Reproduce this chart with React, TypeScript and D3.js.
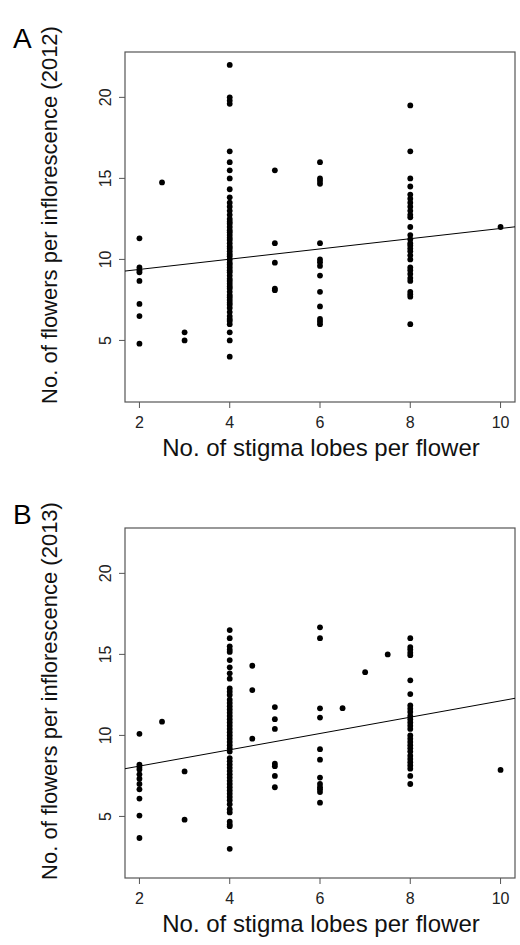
import React from 'react';
import * as d3 from 'd3';

// stigma lobe classes shown on the x axis
const lobes2012 = [2, 2.5, 3, 4, 5, 6, 8, 10];
const lobes2013 = [2, 2.5, 3, 4, 4.5, 5, 6, 6.5, 7, 7.5, 8, 10];

// flowers per inflorescence, one list per lobe class (2012)
const flowers2012 = [
  [11.3, 9.5, 9.33, 9.2, 8.67, 7.25, 6.5, 4.8],
  [14.75],
  [5.5, 5.0],
  [22, 20, 19.8, 19.6, 16.67, 16, 15.5, 15, 14.33, 13.83, 13.5, 13.25, 13, 12.75, 12.5,
    12.33, 12.2, 12, 11.8, 11.67, 11.5, 11.33, 11.2, 11, 10.8, 10.67, 10.5, 10.33, 10.2,
    10, 9.8, 9.67, 9.5, 9.33, 9.2, 9, 8.8, 8.67, 8.5, 8.33, 8.2, 8, 7.8, 7.67, 7.5, 7.33,
    7.2, 7, 6.75, 6.5, 6.33, 6.2, 6, 5.5, 5, 4],
  [15.5, 11, 9.8, 8.2, 8.1],
  [16, 15, 14.85, 14.67, 11, 10, 9.83, 9.6, 9, 8, 7.1, 6.33, 6.17, 6],
  [19.5, 16.67, 15, 14.5, 14, 13.75, 13.5, 13.25, 13, 12.75, 12.6, 12, 11.5, 11.25, 11,
    10.86, 10.67, 10.5, 10.25, 10, 9.5, 9.33, 9.1, 8.85, 8.67, 8, 7.85, 7.7, 6],
  [12],
];

// flowers per inflorescence, one list per lobe class (2013)
const flowers2013 = [
  [10.1, 8.2, 8.05, 7.9, 7.6, 7.33, 7.0, 6.67, 6.1, 5.05, 3.67],
  [10.85],
  [7.78, 4.8],
  [16.5, 16, 15.5, 15.3, 15.15, 14.65, 14.2, 13.83, 13.5, 12.9, 12.7, 12.5, 12.2, 12,
    11.8, 11.6, 11.4, 11.2, 11, 10.8, 10.6, 10.4, 10.2, 10, 9.8, 9.6, 9.4, 9.2, 9, 8.6,
    8.4, 8.2, 8, 7.8, 7.6, 7.4, 7.2, 7, 6.8, 6.6, 6.4, 6.2, 6, 5.75, 5.45, 5.25, 4.67,
    4.5, 4.4, 3],
  [14.3, 12.8, 9.8],
  [11.75, 11, 10.4, 8.25, 8.1, 7.5, 6.8],
  [16.67, 16, 11.67, 11.1, 9.15, 8.5, 7.4, 7, 6.8, 6.67, 6.5, 5.85],
  [11.68],
  [13.9],
  [15],
  [16, 15.45, 15.3, 15.1, 14.95, 13.4, 12.55, 11.85, 11.65, 11.45, 11.2, 11, 10.8, 10.6,
    10.4, 10, 9.8, 9.6, 9.4, 9.2, 9, 8.75, 8.55, 8.35, 8.15, 7.95, 7.5, 7],
  [7.87],
];

// fitted lines (intercept, slope)
const fit2012 = [8.75, 0.316];
const fit2013 = [7.1, 0.503];

const xTicks = [2, 4, 6, 8, 10];
const yTicks = [5, 10, 15, 20];

const FONT = '"Liberation Sans", Arial, Helvetica, sans-serif';
const LEFT = 125;
const RIGHT = 515;
const PLOT_H = 350;

type PanelProps = {
  top: number;
  letter: string;
  yLabel: string;
  lobes: number[];
  flowers: number[][];
  fit: number[];
};

const Panel = ({ top, letter, yLabel, lobes, flowers, fit }: PanelProps) => {
  const bottom = top + PLOT_H;
  const x = d3.scaleLinear().domain([1.68, 10.32]).range([LEFT, RIGHT]);
  const y = d3.scaleLinear().domain([1.2, 22.8]).range([bottom, top]);

  const points = lobes.flatMap((lx, i) => flowers[i].map(v => [lx, v]));
  const [a, b] = fit;
  const line = d3.line<number>().x(d => x(d)).y(d => y(a + b * d));

  return (
    <g>
      <text x={13} y={top - 4} fontSize={28} fontFamily={FONT}>{letter}</text>

      <rect x={LEFT} y={top} width={RIGHT - LEFT} height={PLOT_H}
        fill="none" stroke="#555" strokeWidth={1.2} />

      {points.map(([px, py], i) => (
        <circle key={i} cx={x(px)} cy={y(py)} r={2.9} fill="#000" />
      ))}

      <path d={line(x.domain()) || ''} stroke="#000" strokeWidth={1} fill="none" />

      {xTicks.map(t => (
        <g key={t}>
          <line x1={x(t)} x2={x(t)} y1={bottom} y2={bottom + 6} stroke="#555" />
          <text x={x(t)} y={bottom + 26} textAnchor="middle" fontSize={16}
            fontFamily={FONT} fill="#222">{t}</text>
        </g>
      ))}
      {yTicks.map(t => (
        <g key={t}>
          <line x1={LEFT} x2={LEFT - 6} y1={y(t)} y2={y(t)} stroke="#555" />
          <text transform={`translate(${LEFT - 14},${y(t)}) rotate(-90)`}
            textAnchor="middle" fontSize={16} fontFamily={FONT} fill="#222">{t}</text>
        </g>
      ))}

      <text x={(LEFT + RIGHT) / 2 + 1} y={bottom + 54} textAnchor="middle"
        fontSize={24} fontFamily={FONT} fill="#111">No. of stigma lobes per flower</text>
      <text transform={`translate(57,${(top + bottom) / 2 - 12}) rotate(-90)`}
        textAnchor="middle" fontSize={22} fontFamily={FONT} fill="#111">{yLabel}</text>
    </g>
  );
};

export default function App() {
  return (
    <svg width={520} height={945} style={{ position: 'absolute', left: 0, top: 0, background: '#fff' }}>
      <Panel top={52} letter="A" yLabel="No. of flowers per inflorescence (2012)"
        lobes={lobes2012} flowers={flowers2012} fit={fit2012} />
      <Panel top={528} letter="B" yLabel="No. of flowers per inflorescence (2013)"
        lobes={lobes2013} flowers={flowers2013} fit={fit2013} />
    </svg>
  );
}
